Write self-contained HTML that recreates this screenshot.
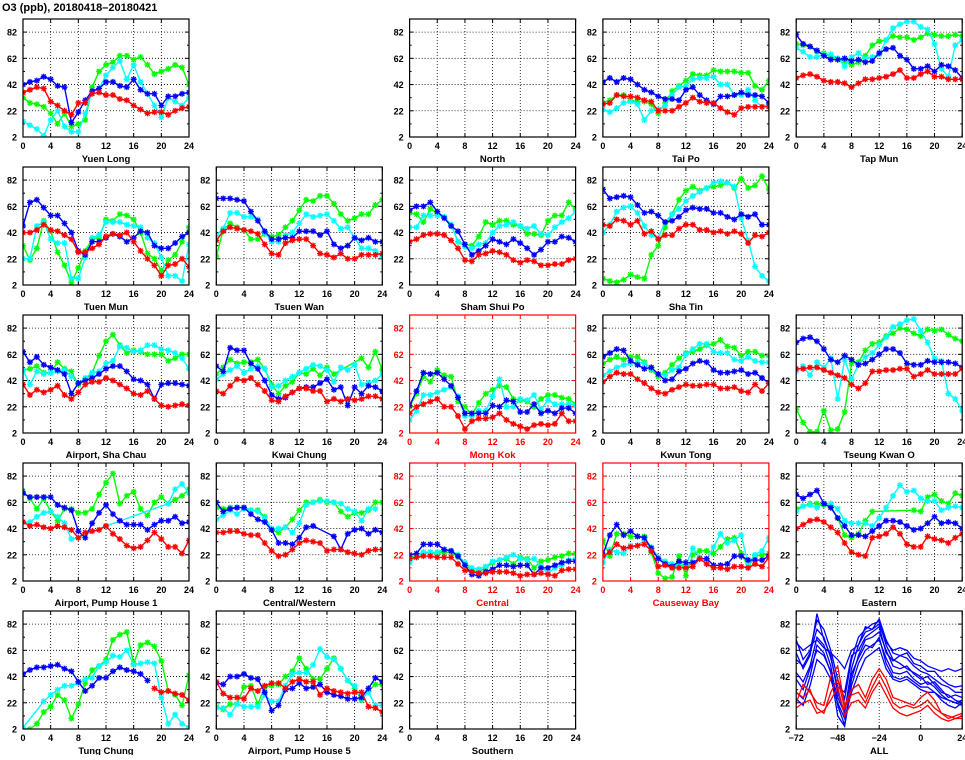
<!DOCTYPE html>
<html><head><meta charset="utf-8"><style>
body{margin:0;background:#fff;width:965px;height:755px;overflow:hidden;font-family:"Liberation Sans",sans-serif}
svg text{font-family:"Liberation Sans",sans-serif;font-weight:bold}
</style></head><body>
<svg id="chart" width="965" height="755" xmlns="http://www.w3.org/2000/svg">
<text x="2" y="11" font-size="11" font-weight="normal">O3 (ppb), 20180418–20180421</text>
</svg>
<script>
const N=null;
const hours=[0,1,2,3,4,5,6,7,8,9,10,11,12,13,14,15,16,17,18,19,20,21,22,23,24];
const yTicks=[2,22,42,62,82];
const xTicks=[0,4,8,12,16,20,24];
const allXTicks=[-72,-48,-24,0,24];
const stationNames=["Yuen Long","","North","Tai Po","Tap Mun","Tuen Mun","Tsuen Wan","Sham Shui Po","Sha Tin","","Airport, Sha Chau","Kwai Chung","Mong Kok","Kwun Tong","Tseung Kwan O","Airport, Pump House 1","Central/Western","Central","Causeway Bay","Eastern","Tung Chung","Airport, Pump House 5","Southern","","ALL"];
const roadside=["Mong Kok","Central","Causeway Bay"];
const seriesColors=["#ff0000","#0000ff","#00ffff","#00ff00"];
const redSeries={
"Yuen Long":[36,38,40,39,29,26,22,19,28,28,35,36,34,34,31,30,26,23,20,21,21,19,22,24,25],
"Tai Po":[27,28,34,33,33,32,30,29,22,22,22,25,28,32,29,28,28,24,21,19,24,25,25,25,25],
"Tap Mun":[47,49,50,48,45,44,44,43,40,43,46,46,47,48,50,53,47,47,50,52,48,48,46,46,46],
"Tuen Mun":[42,42,44,48,44,43,40,37,27,27,30,33,39,41,40,42,35,28,22,17,9,17,18,22,16],
"Tsuen Wan":[36,43,46,45,44,43,41,33,26,25,34,36,37,37,32,26,25,23,26,22,22,25,25,25,26],
"Sham Shui Po":[35,37,40,41,41,40,36,30,21,20,25,26,28,27,25,21,19,21,20,17,17,18,18,21,22],
"Sha Tin":[48,47,52,51,48,51,41,43,37,40,40,45,48,48,44,44,42,43,41,43,41,34,40,39,42],
"Airport, Sha Chau":[39,31,35,33,35,38,31,28,33,39,41,41,44,42,39,36,32,31,34,28,23,22,23,24,23],
"Kwai Chung":[34,32,38,43,42,44,39,34,27,26,30,33,36,36,34,34,26,28,26,28,27,28,30,30,28],
"Mong Kok":[17,22,24,26,28,22,22,15,5,11,13,13,14,17,12,9,7,5,8,9,8,9,17,11,11],
"Kwun Tong":[41,45,48,47,47,43,40,36,33,32,35,37,39,38,38,39,39,36,36,37,34,33,39,34,40],
"Tseung Kwan O":[51,51,52,52,50,48,46,44,39,36,40,49,49,50,50,51,51,45,47,50,47,47,47,47,51],
"Airport, Pump House 1":[47,44,45,43,42,44,43,41,35,39,40,41,44,38,34,29,27,28,33,39,34,28,28,23,33],
"Central/Western":[39,39,40,40,38,37,37,31,25,21,22,26,31,33,32,31,25,26,26,24,23,22,25,26,26],
"Central":[19,20,21,21,20,20,20,15,10,9,8,8,9,9,9,8,6,7,7,8,7,6,10,11,11],
"Causeway Bay":[21,24,30,27,28,29,30,25,13,14,12,12,12,13,19,15,12,12,11,13,13,12,15,13,20],
"Eastern":[42,45,48,49,47,43,39,31,24,22,21,35,36,38,43,38,30,28,28,36,34,33,31,35,38],
"Tung Chung":[N,N,N,N,N,N,N,N,N,N,N,N,N,N,N,N,N,N,N,33,30,31,29,28,24],
"Airport, Pump House 5":[38,29,26,26,25,33,31,35,37,37,33,38,40,38,38,28,33,31,30,29,30,30,19,18,15]
};
const blueSeries={
"Yuen Long":[42,44,45,48,46,41,40,13,21,30,37,39,44,44,41,40,46,38,35,35,26,33,33,35,36],
"Tai Po":[44,47,44,47,46,42,38,36,33,31,31,30,38,40,34,30,27,33,33,34,36,34,34,33,28],
"Tap Mun":[80,73,71,68,64,61,61,62,60,61,59,60,66,69,70,64,61,54,54,56,52,57,56,53,47],
"Tuen Mun":[47,65,67,61,55,55,49,42,28,25,35,35,38,41,39,35,38,43,42,32,30,30,34,39,42],
"Tsuen Wan":[68,68,68,67,66,58,51,43,37,37,38,38,43,43,43,40,43,33,30,32,38,36,38,35,35],
"Sham Shui Po":[59,62,62,65,58,53,47,43,33,25,28,32,37,35,33,37,34,30,25,29,35,35,39,38,35],
"Sha Tin":[75,68,69,70,69,63,57,58,55,50,51,54,59,61,60,60,57,57,54,52,56,54,56,48,48],
"Airport, Sha Chau":[64,56,60,54,52,50,47,32,40,42,44,47,51,53,53,49,43,42,39,28,39,40,40,39,38],
"Kwai Chung":[53,49,67,65,65,55,51,42,31,28,29,33,36,37,37,40,43,35,37,23,37,32,38,37,34],
"Mong Kok":[23,34,48,47,48,43,38,29,17,17,17,17,23,22,27,26,18,18,24,17,19,17,21,21,17],
"Kwun Tong":[60,63,66,65,57,54,51,52,47,42,43,49,51,55,57,56,50,48,48,49,50,47,48,44,40],
"Tseung Kwan O":[71,74,75,72,66,58,56,61,58,54,55,58,62,66,66,63,55,54,54,57,56,56,56,55,52],
"Airport, Pump House 1":[69,66,66,66,66,60,58,56,40,35,46,54,60,53,48,45,45,45,41,45,48,48,51,46,47],
"Central/Western":[62,55,57,58,58,53,49,47,41,31,31,30,35,43,44,N,N,36,26,38,41,42,38,41,39],
"Central":[22,23,30,30,30,26,25,21,14,7,6,9,11,14,14,13,14,14,7,12,12,14,16,17,17],
"Causeway Bay":[22,37,45,37,40,36,35,27,19,15,13,17,16,16,19,19,14,14,15,21,21,18,18,18,21],
"Eastern":[68,65,68,71,61,58,50,44,37,37,36,40,44,48,48,47,44,41,42,46,51,46,47,46,42],
"Tung Chung":[44,47,49,49,50,51,48,46,38,31,35,41,41,46,49,47,46,44,39,N,N,N,N,N,N],
"Airport, Pump House 5":[37,36,42,42,44,41,40,30,16,20,32,33,37,33,34,36,30,28,27,25,25,26,33,41,38]
};
const cyanSeries={
"Yuen Long":[14,11,8,3,15,22,10,6,6,20,37,39,49,55,60,46,57,44,35,26,17,32,29,26,32],
"Tai Po":[23,21,24,28,29,27,15,22,23,26,34,40,41,46,47,47,48,42,42,34,34,38,30,25,27],
"Tap Mun":[70,67,63,63,65,65,62,56,63,66,62,63,65,76,85,88,90,90,86,84,73,54,48,72,76],
"Tuen Mun":[22,22,47,50,37,34,34,7,7,23,38,40,50,50,50,48,47,46,38,34,23,9,9,5,33],
"Tsuen Wan":[40,45,57,57,54,54,52,42,35,35,40,42,49,56,54,55,56,51,45,46,38,30,30,28,24],
"Sham Shui Po":[46,46,55,55,55,54,48,35,31,30,33,34,42,47,48,50,47,45,47,41,40,46,50,53,58],
"Sha Tin":[42,48,58,61,62,57,47,40,38,50,56,60,66,70,73,76,80,81,80,77,53,36,16,9,5],
"Airport, Sha Chau":[50,39,49,47,48,49,50,45,40,44,48,49,55,57,68,67,64,65,69,69,66,65,63,59,51],
"Kwai Chung":[43,47,50,53,48,51,53,51,37,38,42,45,48,51,54,53,50,41,52,50,54,39,40,42,47],
"Mong Kok":[12,19,31,31,33,35,37,30,15,15,19,19,30,43,22,22,28,27,31,20,27,24,24,24,23],
"Kwun Tong":[46,49,52,54,55,56,55,51,47,46,50,52,62,66,70,70,64,63,63,58,57,60,57,56,56],
"Tseung Kwan O":[49,53,46,56,52,59,28,58,43,54,60,63,69,75,83,85,88,89,80,71,59,57,32,28,19],
"Airport, Pump House 1":[47,47,51,54,55,51,46,34,35,N,N,N,44,N,N,N,N,N,N,N,N,61,72,76,69],
"Central/Western":[49,52,56,53,57,56,55,50,42,42,43,39,46,60,62,63,63,62,61,57,55,48,57,57,N],
"Central":[16,21,24,24,24,26,25,22,16,12,11,13,17,18,20,22,19,18,19,13,8,12,14,18,19],
"Causeway Bay":[16,26,24,23,29,29,33,28,20,17,15,14,14,27,20,18,28,38,31,33,37,15,22,25,35],
"Eastern":[55,59,60,58,61,61,57,48,46,46,46,44,50,58,67,75,70,71,65,63,63,56,58,59,58],
"Tung Chung":[3,N,N,23,28,32,35,35,37,40,41,50,53,58,57,62,51,52,53,52,26,6,13,6,3],
"Airport, Pump House 5":[18,18,13,21,19,19,19,28,23,23,35,44,45,45,51,63,57,55,48,39,35,25,30,20,20]
};
const greenSeries={
"Yuen Long":[32,28,27,25,20,12,20,10,12,15,40,52,57,59,64,64,61,63,57,50,52,54,57,55,42],
"Tai Po":[28,30,34,34,30,29,29,27,20,28,37,41,45,50,49,49,53,52,52,52,51,51,41,38,45],
"Tap Mun":[73,72,71,67,66,63,61,60,57,59,64,72,75,76,79,78,78,76,78,81,80,79,79,80,79],
"Tuen Mun":[32,21,30,51,43,27,17,4,15,28,37,38,52,51,56,55,52,42,26,22,13,21,25,35,46],
"Tsuen Wan":[24,44,49,46,44,37,37,41,39,40,46,51,59,67,66,70,70,64,56,51,53,56,56,63,67],
"Sham Shui Po":[57,56,50,60,57,54,48,35,33,32,39,50,48,51,51,48,47,41,41,40,51,55,55,65,60],
"Sha Tin":[7,5,4,6,10,8,7,25,32,46,56,67,74,77,74,76,77,78,80,76,83,76,78,85,75],
"Airport, Sha Chau":[50,51,53,48,48,56,51,49,39,42,48,61,72,77,69,63,65,64,62,62,62,57,59,62,62],
"Kwai Chung":[47,52,58,55,56,56,58,51,39,32,38,41,48,47,51,46,52,47,N,N,N,59,52,64,50],
"Mong Kok":[22,32,45,41,50,46,45,26,22,16,25,32,35,38,37,28,27,26,22,28,31,31,29,28,24],
"Kwun Tong":[55,58,60,58,60,60,56,50,45,48,54,59,63,64,66,69,70,73,68,67,61,64,64,61,61],
"Tseung Kwan O":[20,10,3,3,19,4,5,18,55,56,65,70,71,76,78,82,81,78,76,81,80,81,77,74,72],
"Airport, Pump House 1":[70,65,57,65,55,48,57,57,54,54,57,68,77,84,61,67,70,57,52,62,66,61,64,67,72],
"Central/Western":[58,57,58,58,58,56,56,51,41,39,43,49,56,62,62,64,62,62,55,51,54,54,56,62,62],
"Central":[20,21,23,24,23,24,24,20,15,10,9,12,16,18,19,15,20,19,12,17,18,20,21,23,23],
"Causeway Bay":[33,21,38,38,36,36,36,24,8,4,5,21,6,22,25,25,23,28,34,35,23,13,21,22,23],
"Eastern":[57,59,61,61,60,59,50,37,35,38,48,55,N,N,N,N,N,56,55,66,68,63,61,69,67],
"Tung Chung":[2,2,6,15,19,28,24,10,21,37,47,50,55,70,74,76,52,66,68,65,54,31,28,20,43],
"Airport, Pump House 5":[19,17,21,21,34,35,21,34,35,36,42,46,56,48,40,40,48,56,48,39,33,24,31,36,36]
};
const allHours=[-72,-68,-64,-60,-56,-52,-48,-44,-40,-36,-32,-28,-24,-20,-16,-12,-8,-4,0,4,8,12,16,20,24];
const allBlue=[
[70,55,62,85,78,62,40,25,55,72,78,82,84,66,55,52,48,45,42,36,38,32,26,28,26],
[60,48,58,90,70,58,30,15,48,66,80,78,86,70,60,58,56,50,46,44,40,36,34,30,30],
[45,38,50,72,66,50,20,5,40,58,70,72,76,62,50,48,50,44,40,42,36,30,28,24,22],
[30,25,42,66,60,45,12,4,35,52,62,66,70,56,45,44,46,40,36,38,34,28,24,22,20],
[55,50,60,78,72,56,34,30,58,62,72,76,80,60,54,58,60,52,50,46,46,40,36,34,35],
[40,32,48,62,58,46,26,14,44,56,66,64,72,52,42,40,42,38,34,34,30,26,24,22,24],
[68,62,66,70,64,60,55,48,62,66,76,78,82,68,62,64,62,56,54,50,48,46,48,46,48],
[25,20,35,55,50,40,22,10,30,44,56,60,64,48,40,38,40,36,32,30,30,24,20,18,22]
];
const allRed=[
[22,36,30,22,20,42,50,20,32,36,26,40,48,40,26,24,22,20,26,30,24,14,12,10,12],
[30,26,32,18,14,30,40,18,28,30,22,34,44,34,22,18,20,18,20,24,18,14,10,12,14],
[18,22,24,14,16,24,34,12,22,24,18,30,38,28,18,14,12,14,16,20,14,10,8,10,10]
];

const svg=document.getElementById('chart');
const NS='http://www.w3.org/2000/svg';
const PW=166,PH=118,YMIN=2,YMAX=92;
function mk(tag,attrs,parent){const e=document.createElementNS(NS,tag);for(const k in attrs)e.setAttribute(k,attrs[k]);(parent||svg).appendChild(e);return e;}
function slug(s){return s.toLowerCase().replace(/[^a-z0-9]+/g,'-').replace(/^-|-$/g,'');}

stationNames.forEach((name,i)=>{
  if(!name)return;
  const c=i%5,r=Math.floor(i/5);
  const L=23+193.3*c,T=19+148*r,B=T+PH,R=L+PW;
  const isAll=name==="ALL";
  const xmin=isAll?-72:0,xmax=24;
  const xs=v=>L+(v-xmin)/(xmax-xmin)*PW;
  const ys=v=>B-(v-YMIN)/(YMAX-YMIN)*PH;
  const col=roadside.includes(name)?'#ff0000':'#000';
  const g=mk('g',{});
  
  
  const xt=isAll?allXTicks:xTicks;
  xt.forEach(t=>{if(t>xmin&&t<xmax){const l=mk('line',{x1:xs(t),x2:xs(t),y1:T,y2:B,stroke:'#000','stroke-width':0.8,'stroke-dasharray':'1,2'},g);}});
  yTicks.forEach(t=>{if(t>YMIN){const l=mk('line',{x1:L,x2:R,y1:ys(t),y2:ys(t),stroke:'#000','stroke-width':0.8,'stroke-dasharray':'1,2'},g);}});
  yTicks.forEach(t=>{mk('line',{x1:L,x2:L+4,y1:ys(t),y2:ys(t),stroke:col},g);mk('line',{x1:R,x2:R-4,y1:ys(t),y2:ys(t),stroke:col},g);
    if(t<82){mk('line',{x1:L,x2:L+2,y1:ys(t+10),y2:ys(t+10),stroke:col},g);mk('line',{x1:R,x2:R-2,y1:ys(t+10),y2:ys(t+10),stroke:col},g);}
    const tx=mk('text',{x:L-6,y:ys(t)+3.5,'font-size':9,'text-anchor':'end',fill:col},g);tx.textContent=t;
    });
  xt.forEach(t=>{mk('line',{x1:xs(t),x2:xs(t),y1:B,y2:B-4,stroke:col},g);mk('line',{x1:xs(t),x2:xs(t),y1:T,y2:T+4,stroke:col},g);
    const tx=mk('text',{x:xs(t),y:B+12,'font-size':9,'text-anchor':'middle',fill:col},g);tx.textContent=(t<0?'−'+(-t):t);
    });
  const clip='clip'+i;
  const cp=mk('clipPath',{id:clip},g);mk('rect',{x:L,y:T,width:PW,height:PH},cp);
  const sg=mk('g',{'clip-path':'url(#'+clip+')'},g);
  if(isAll){
    allBlue.forEach(arr=>{const p=mk('polyline',{points:arr.map((v,k)=>xs(allHours[k])+','+ys(v)).join(' '),fill:'none',stroke:'#0000ff','stroke-width':1.3},sg);});
    allRed.forEach(arr=>{const p=mk('polyline',{points:arr.map((v,k)=>xs(allHours[k])+','+ys(v)).join(' '),fill:'none',stroke:'#ff0000','stroke-width':1.3},sg);});
  } else if(redSeries[name]){
    const sets=[redSeries,blueSeries,cyanSeries,greenSeries];
    [3,2,1,0].forEach(si=>{
      const arr=sets[si][name];const color=seriesColors[si];
      const pts=[];arr.forEach((v,k)=>{if(v!==null)pts.push([xs(hours[k]),ys(v)]);});
      const p=mk('polyline',{points:pts.map(q=>q.join(',')).join(' '),fill:'none',stroke:color,'stroke-width':1.4},sg);
      
      
      let d='';pts.forEach(([x,y])=>{d+=`M${x-3},${y}h6M${x},${y-3}v6M${x-2.2},${y-2.2}l4.4,4.4M${x-2.2},${y+2.2}l4.4,-4.4`;});
      const m=mk('path',{d:d,stroke:color,'stroke-width':1.3,fill:'none'},sg);
      
      
    });
  }
  const fr=mk('rect',{x:L,y:T,width:PW,height:PH,fill:'none',stroke:col,'stroke-width':1.2},g);
  
  const tt=mk('text',{x:L+PW/2,y:B+25,'font-size':9.5,'text-anchor':'middle',fill:col},g);tt.textContent=name;
  
});
</script>
</body></html>
